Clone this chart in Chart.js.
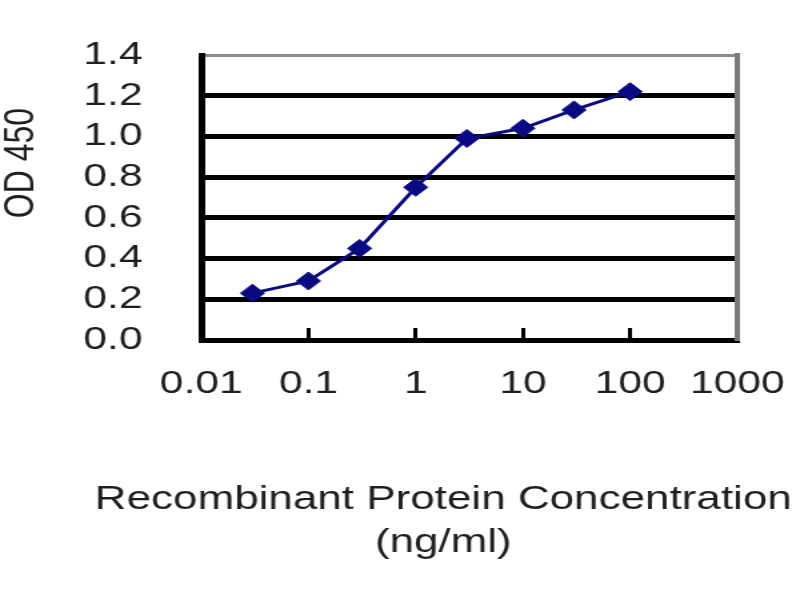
<!DOCTYPE html>
<html>
<head>
<meta charset="utf-8">
<script src="https://cdn.jsdelivr.net/npm/chart.js@4.4.1/dist/chart.umd.min.js"></script>
<style>
  html, body { margin: 0; padding: 0; background: #ffffff; }
  #wrap { width: 800px; height: 600px; background: #ffffff; }
</style>
</head>
<body>
<div id="wrap"><canvas id="c" width="600" height="600" style="width:800px;height:600px;display:block"></canvas></div>
<script>
// ---- data ----
const concentrations = [0.03, 0.1, 0.3, 1, 3, 10, 30, 100];          // ng/ml
const od450 = [0.23, 0.29, 0.45, 0.75, 0.99, 1.04, 1.13, 1.22];
const xTickValues = [0.01, 0.1, 1, 10, 100, 1000];
const xTickLabels = ['0.01', '0.1', '1', '10', '100', '1000'];
const yTickLabels = ['0.0', '0.2', '0.4', '0.6', '0.8', '1.0', '1.2', '1.4'];
const xTitle = ['Recombinant Protein Concentration', '(ng/ml)'];
const yTitle = 'OD 450';

const FONT = "'Liberation Sans', Arial, sans-serif";
const TEXT = '#1e1e1e';

const yTitlePlugin = {
  id: 'yTitleText',
  afterDraw(chart, args, opts) {
    const ctx = chart.ctx;
    const a = chart.chartArea;
    ctx.save();
    ctx.translate(a.left + opts.dx, a.top + opts.dy);
    ctx.rotate(-Math.PI / 2);
    ctx.font = opts.size + 'px ' + FONT;
    ctx.fillStyle = opts.color;
    ctx.textAlign = 'center';
    ctx.textBaseline = 'middle';
    ctx.fillText(opts.text, 0, 0);
    ctx.restore();
  }
};

new Chart(document.getElementById('c'), {
  type: 'line',
  data: {
    datasets: [{
      data: concentrations.map((c, i) => ({ x: c, y: od450[i] })),
      borderColor: '#0a0a82',
      backgroundColor: '#0a0a82',
      borderWidth: 3,
      tension: 0,
      pointStyle: 'rectRot',
      pointRadius: 9,
      pointBorderWidth: 1,
      pointBackgroundColor: '#0a0a82',
      pointBorderColor: '#0a0a82',
      fill: false
    }]
  },
  options: {
    responsive: false,
    animation: false,
    devicePixelRatio: 1,
    layout: { padding: { left: 60, right: -5, top: 55, bottom: 35.5 } },
    plugins: {
      legend: { display: false },
      tooltip: { enabled: false },
      title: {
        display: true,
        position: 'bottom',
        text: xTitle,
        color: TEXT,
        font: { family: FONT, size: 33, weight: 'normal', lineHeight: 1.303 },
        padding: { top: 58.5, bottom: 0 }
      },
      yTitleText: { text: yTitle, dx: -135, dy: 108, size: 32, color: TEXT }
    },
    scales: {
      x: {
        type: 'logarithmic',
        position: 'bottom',
        min: 0.01,
        max: 1000,
        afterBuildTicks: (s) => { s.ticks = xTickValues.map(v => ({ value: v })); },
        afterFit: (s) => { s.height = 80; s.paddingLeft = 0; s.paddingRight = 0; },
        ticks: {
          autoSkip: false,
          maxRotation: 0,
          padding: 37,
          color: TEXT,
          font: { family: FONT, size: 32 },
          callback: (v) => { const i = xTickValues.indexOf(v); return i >= 0 ? xTickLabels[i] : ''; }
        },
        grid: { drawOnChartArea: false, drawTicks: true, tickLength: -12, color: '#000', lineWidth: 3 },
        border: { display: true, color: '#000', width: 5 }
      },
      y: {
        position: 'left',
        min: 0,
        max: 1.4,
        afterFit: (s) => { s.width = 91; s.paddingTop = 0; s.paddingBottom = 0; },
        ticks: {
          stepSize: 0.2,
          autoSkip: false,
          padding: 44,
          color: TEXT,
          font: { family: FONT, size: 32 },
          callback: (v) => yTickLabels[Math.round(v / 0.2)]
        },
        grid: {
          drawTicks: false,
          color: (c) => (c.index === yTickLabels.length - 1 ? '#8a8a8a' : '#000'),
          lineWidth: (c) => (c.index === yTickLabels.length - 1 ? 3 : 5)
        },
        border: { display: true, color: '#000', width: 5 }
      },
      yRight: {
        position: 'right',
        min: 0,
        max: 1.4,
        afterFit: (s) => { s.width = 52; s.paddingTop = 0; s.paddingBottom = 0; },
        ticks: { display: false },
        grid: { drawOnChartArea: false, drawTicks: false },
        border: { display: true, color: '#7a7a7a', width: 4 }
      }
    }
  },
  plugins: [yTitlePlugin]
});
</script>
</body>
</html>
